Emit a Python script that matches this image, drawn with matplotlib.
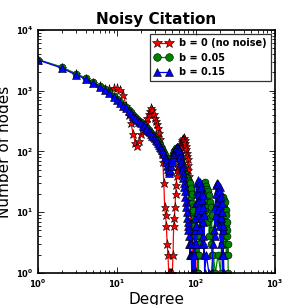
import matplotlib
matplotlib.use("Agg")
import matplotlib.pyplot as plt

# degree / count pairs
deg_b0 = list(range(1, 93)) + [95, 97, 98, 99, 100]
cnt_b0 = [3200, 2400, 1900, 1560, 1340, 1180, 1050, 1080, 1120, 1100,
          1020, 850, 560, 400, 290, 190, 140, 125, 150, 190,
          220, 260, 300, 350, 420, 470, 510, 480, 420, 360,
          320, 280, 240, 200, 160, 120, 90, 68, 30, 12,
          9, 6, 3, 2, 1, 1, 1, 1, 1, 1,
          2, 6, 8, 12, 20, 28, 40, 50, 55, 60,
          75, 90, 105, 120, 135, 145, 155, 160, 150, 165,
          150, 155, 140, 125, 110, 95, 85, 75, 60, 50,
          40, 30, 22, 15, 10, 7, 5, 4, 3, 2,
          2, 1, 1, 2, 3, 2, 1]

deg_b005 = (list(range(1, 113)) +
            list(range(113, 167, 2)) +
            [175, 190, 205] + list(range(210, 252, 2)) + [252, 255])
cnt_b005 = [3250, 2450, 1900, 1620, 1380, 1200, 1070, 950, 830, 730,
            650, 590, 530, 480, 445, 405, 370, 345, 320, 300,
            285, 270, 255, 240, 225, 212, 200, 188, 178, 170,
            160, 152, 144, 135, 126, 118, 110, 102, 94, 86,
            78, 70, 63, 58, 55, 57, 62, 68, 75, 82,
            90, 96, 102, 106, 110, 112, 110, 106, 100, 95,
            90, 84, 78, 72, 66, 62, 58, 54, 50, 47,
            44, 42, 40, 38, 36, 34, 36, 33, 30, 34,
            28, 32, 26, 30, 22, 25, 18, 20, 14, 12,
            10, 11, 8, 7, 6, 5, 4, 5, 3, 4,
            3, 2, 3, 2, 1, 2, 1, 3, 5, 2, 8, 4,
            12, 6, 18, 9, 25, 14, 30, 20, 32, 11,
            27, 16, 24, 7, 22, 13, 19, 4, 15, 8,
            12, 3, 9, 2, 5, 1, 2,
            1, 2, 1, 4, 9, 3, 14, 6, 18, 10,
            16, 5, 12, 7, 15, 3, 11, 6, 9, 2,
            7, 4, 5, 2, 3, 1]

deg_b015 = (list(range(1, 129)) + [135, 145, 157, 165] +
            list(range(170, 224, 2)) + [225])
cnt_b015 = [3200, 2350, 1820, 1550, 1320, 1150, 1030, 920, 790, 700,
            620, 560, 510, 460, 430, 390, 350, 330, 310, 290,
            275, 262, 245, 230, 215, 205, 190, 180, 172, 165,
            155, 148, 140, 130, 120, 112, 105, 98, 90, 82,
            74, 66, 58, 52, 48, 45, 50, 58, 66, 75,
            82, 90, 98, 105, 110, 115, 118, 120, 116, 108,
            100, 92, 82, 72, 64, 56, 49, 42, 36, 30,
            26, 22, 18, 15, 12, 10, 8, 7, 6, 5,
            4, 3, 3, 2, 3, 2, 2, 1, 2, 1,
            2, 1, 3, 1, 2, 5, 1, 8, 3, 14,
            6, 22, 10, 30, 15, 34, 20, 9, 28, 12,
            25, 5, 31, 18, 8, 26, 3, 21, 11, 16,
            4, 19, 7, 12, 2, 9, 3, 1,
            2, 1, 1, 3,
            5, 12, 4, 20, 9, 28, 15, 30, 7, 24,
            11, 29, 17, 6, 26, 13, 22, 3, 18, 8,
            14, 2, 10, 5, 1, 6, 2, 1]

labels = ["b = 0 (no noise)", "b = 0.05", "b = 0.15"]

fig = plt.figure(figsize=(3.05, 3.05), dpi=100)
ax = fig.add_axes([0.125, 0.105, 0.777, 0.797])

ax.plot(deg_b0, cnt_b0, color="r", marker="*", markersize=6.5,
        markeredgecolor="k", markeredgewidth=0.4, lw=0.9, label=labels[0])
ax.plot(deg_b005, cnt_b005, color="g", marker="o", markersize=5,
        markeredgecolor="k", markeredgewidth=0.4, lw=0.9, label=labels[1])
ax.plot(deg_b015, cnt_b015, color="b", marker="^", markersize=5.5,
        markeredgecolor="k", markeredgewidth=0.4, lw=0.9, label=labels[2])

ax.set_xscale("log")
ax.set_yscale("log")
ax.set_xlim(1, 1000)
ax.set_ylim(1, 10000)

ax.tick_params(which="both", direction="in", top=True, right=True,
               labelsize=6, width=0.6)
ax.tick_params(which="major", length=4)
ax.tick_params(which="minor", length=2)
for lab in ax.get_xticklabels() + ax.get_yticklabels():
    lab.set_fontweight("bold")
for s in ax.spines.values():
    s.set_linewidth(1.2)

ax.set_xlabel("Degree", fontsize=11, labelpad=1)
ax.set_ylabel("Number of nodes", fontsize=11, labelpad=3)
ax.set_title("Noisy Citation", fontsize=11, fontweight="bold", pad=4)

leg = ax.legend(loc="upper right", numpoints=2, prop={"weight": "bold", "size": 7},
                fancybox=False, borderaxespad=0.4, handlelength=1.8,
                labelspacing=0.45, borderpad=0.45, markerscale=1.1)
leg.get_frame().set_edgecolor("k")
leg.get_frame().set_linewidth(0.9)

fig.savefig("out.png", dpi=100)
